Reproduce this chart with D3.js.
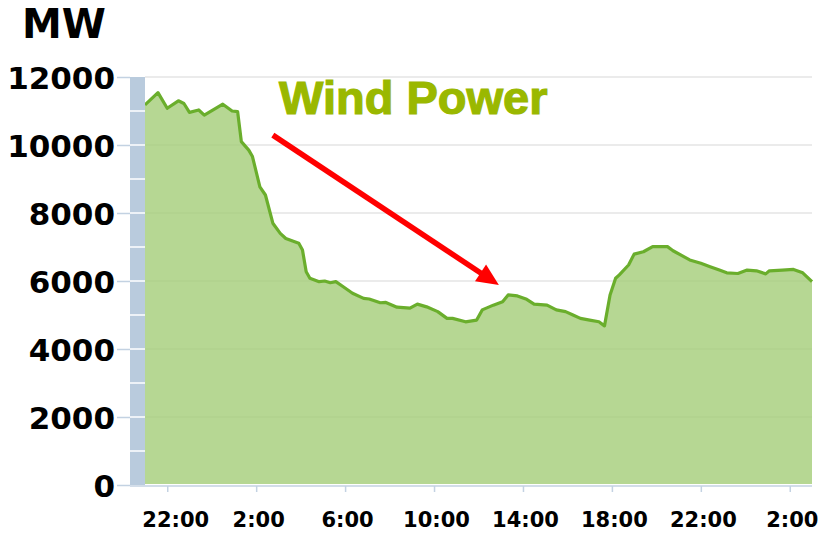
<!DOCTYPE html>
<html>
<head>
<meta charset="utf-8">
<script src="https://cdn.jsdelivr.net/npm/d3@7"></script>
<style>
  body { margin: 0; background: #fff; }
  .tick text { font-family: "DejaVu Sans", Verdana, sans-serif; font-weight: bold; fill: #000; }
</style>
</head>
<body>
<div id="chart"></div>
<script>
// wind power output, MW
const times = [
  '2020-01-01T21:00', '2020-01-01T21:35', '2020-01-01T22:00', '2020-01-01T22:30', '2020-01-01T22:45',
  '2020-01-01T23:00', '2020-01-01T23:25', '2020-01-01T23:40', '2020-01-02T00:30', '2020-01-02T00:55',
  '2020-01-02T01:10', '2020-01-02T01:20', '2020-01-02T01:40', '2020-01-02T01:50', '2020-01-02T02:10',
  '2020-01-02T02:25', '2020-01-02T02:45', '2020-01-02T03:05', '2020-01-02T03:20', '2020-01-02T03:55',
  '2020-01-02T04:05', '2020-01-02T04:15', '2020-01-02T04:25', '2020-01-02T04:50', '2020-01-02T05:05',
  '2020-01-02T05:20', '2020-01-02T05:35', '2020-01-02T05:55', '2020-01-02T06:20', '2020-01-02T06:50',
  '2020-01-02T07:05', '2020-01-02T07:35', '2020-01-02T07:50', '2020-01-02T08:20', '2020-01-02T08:55',
  '2020-01-02T09:15', '2020-01-02T09:40', '2020-01-02T10:10', '2020-01-02T10:35', '2020-01-02T10:50',
  '2020-01-02T11:25', '2020-01-02T11:55', '2020-01-02T12:10', '2020-01-02T12:40', '2020-01-02T13:05',
  '2020-01-02T13:20', '2020-01-02T13:45', '2020-01-02T14:10', '2020-01-02T14:30', '2020-01-02T15:05',
  '2020-01-02T15:30', '2020-01-02T15:55', '2020-01-02T16:15', '2020-01-02T16:35', '2020-01-02T17:00',
  '2020-01-02T17:25', '2020-01-02T17:40', '2020-01-02T17:55', '2020-01-02T18:10', '2020-01-02T18:20',
  '2020-01-02T18:45', '2020-01-02T19:00', '2020-01-02T19:25', '2020-01-02T19:50', '2020-01-02T20:30',
  '2020-01-02T20:45', '2020-01-02T21:30', '2020-01-02T22:00', '2020-01-02T22:25', '2020-01-02T22:50',
  '2020-01-02T23:10', '2020-01-02T23:40', '2020-01-03T00:05', '2020-01-03T00:30', '2020-01-03T00:55',
  '2020-01-03T01:05', '2020-01-03T01:40', '2020-01-03T02:10', '2020-01-03T02:35', '2020-01-03T03:00'
];
const mw = [
  11180, 11540, 11080, 11300, 11220,
  10960, 11030, 10880, 11200, 11000,
  10980, 10100, 9850, 9660, 8770,
  8530, 7700, 7400, 7250, 7110,
  6910, 6270, 6080, 5980, 6000,
  5950, 5980, 5830, 5640, 5490,
  5470, 5360, 5370, 5230, 5200,
  5320, 5240, 5100, 4900, 4900,
  4800, 4850, 5150, 5290, 5390,
  5590, 5560, 5460, 5320, 5290,
  5150, 5100, 5000, 4900, 4850,
  4800, 4680, 5590, 6080, 6180,
  6470, 6790, 6860, 7010, 7010,
  6890, 6620, 6520, 6420, 6320,
  6240, 6220, 6320, 6300, 6210,
  6300, 6320, 6340, 6240, 5980
];
const yTicks = [0, 2000, 4000, 6000, 8000, 10000, 12000];
const xTickTimes = [
  '2020-01-01T22:00', '2020-01-02T02:00', '2020-01-02T06:00', '2020-01-02T10:00',
  '2020-01-02T14:00', '2020-01-02T18:00', '2020-01-02T22:00', '2020-01-03T02:00'
];
const xDomain = ['2020-01-01T21:00', '2020-01-03T03:00'];
// annotation arrow, in data terms
const arrowFrom = {time: '2020-01-02T02:45', value: 10290};
const arrowTo = {time: '2020-01-02T12:55', value: 5880};

const width = 819;
const height = 534;
const parse = d3.timeParse('%Y-%m-%dT%H:%M');

const data = times.map((t, i) => ({date: parse(t), value: mw[i]}));

const svg = d3.select('#chart')
  .append('svg')
  .attr('width', width)
  .attr('height', height);

const x = d3.scaleTime()
  .domain(xDomain.map(parse))
  .range([145, 812]);

const y = d3.scaleLinear()
  .domain([0, 12000])
  .range([485, 77]);

// grid lines
svg.append('g')
  .selectAll('line')
  .data(yTicks.slice(1))
  .enter()
  .append('line')
  .attr('x1', 145)
  .attr('x2', 812)
  .attr('y1', d => y(d))
  .attr('y2', d => y(d))
  .attr('stroke', '#e4e4e4')
  .attr('stroke-width', 1.5);

// area + line
const area = d3.area()
  .x(d => x(d.date))
  .y0(y(0) - 1)
  .y1(d => y(d.value));

const line = d3.line()
  .x(d => x(d.date))
  .y(d => y(d.value));

svg.append('path')
  .datum(data)
  .attr('d', area)
  .attr('fill', '#a4cd78')
  .attr('fill-opacity', 0.8);

svg.append('path')
  .datum(data)
  .attr('d', line)
  .attr('fill', 'none')
  .attr('stroke', '#6aae2c')
  .attr('stroke-width', 3.2)
  .attr('stroke-linejoin', 'round');

// y axis band
svg.append('rect')
  .attr('x', 130)
  .attr('y', y(12000))
  .attr('width', 15)
  .attr('height', y(0) - y(12000))
  .attr('fill', '#b9cbdd');

svg.append('g')
  .selectAll('line')
  .data(d3.range(1000, 12000, 1000))
  .enter()
  .append('line')
  .attr('x1', 130)
  .attr('x2', 145)
  .attr('y1', d => y(d))
  .attr('y2', d => y(d))
  .attr('stroke', '#fff')
  .attr('stroke-width', 1.5);

const yAxis = svg.append('g')
  .attr('transform', 'translate(130,0)')
  .call(d3.axisLeft(y).tickValues(yTicks).tickSize(13).tickPadding(2).tickFormat(d3.format('d')));
yAxis.select('.domain').remove();
yAxis.selectAll('.tick line').attr('stroke', '#c3d2e2').attr('stroke-width', 1.5);
yAxis.selectAll('.tick text').style('font-size', '31px').attr('dy', '0.36em');

const xAxis = svg.append('g')
  .attr('transform', 'translate(0,486)')
  .call(d3.axisBottom(x).tickValues(xTickTimes.map(parse)).tickSize(6).tickFormat(d3.timeFormat('%-H:%M')));
xAxis.select('.domain')
  .attr('d', 'M130,0H812')
  .attr('stroke', '#c3d2e2')
  .attr('stroke-width', 1.5);
xAxis.selectAll('.tick line').attr('stroke', '#c3d2e2').attr('stroke-width', 1.5);
xAxis.selectAll('.tick text')
  .style('font-size', '21px')
  .attr('y', 41)
  .attr('dy', null)
  .attr('dx', (d, i) => i === 0 ? 8 : 2);

// unit label
svg.append('text')
  .attr('x', 22)
  .attr('y', 38)
  .style('font-family', '"DejaVu Sans", Verdana, sans-serif')
  .style('font-weight', 'bold')
  .style('font-size', '40px')
  .text('MW');

// title
svg.append('text')
  .attr('x', 279)
  .attr('y', 114)
  .style('font-family', '"Liberation Sans", Arial, sans-serif')
  .style('font-weight', 'bold')
  .style('font-size', '47px')
  .attr('fill', '#9ab800')
  .attr('stroke', '#9ab800')
  .attr('stroke-width', 1.2)
  .text('Wind Power');

// red arrow
const ax1 = x(parse(arrowFrom.time));
const ay1 = y(arrowFrom.value);
const ax2 = x(parse(arrowTo.time));
const ay2 = y(arrowTo.value);
const ang = Math.atan2(ay2 - ay1, ax2 - ax1);
const headLen = 22;
const headHalf = 10;
const bx = ax2 - headLen * Math.cos(ang);
const by = ay2 - headLen * Math.sin(ang);

svg.append('line')
  .attr('x1', ax1)
  .attr('y1', ay1)
  .attr('x2', bx + 2 * Math.cos(ang))
  .attr('y2', by + 2 * Math.sin(ang))
  .attr('stroke', '#ff0000')
  .attr('stroke-width', 5.5);

svg.append('polygon')
  .attr('points', [
    [ax2, ay2],
    [bx + headHalf * Math.sin(ang), by - headHalf * Math.cos(ang)],
    [bx - headHalf * Math.sin(ang), by + headHalf * Math.cos(ang)]
  ].map(p => p.join(',')).join(' '))
  .attr('fill', '#ff0000');
</script>
</body>
</html>
